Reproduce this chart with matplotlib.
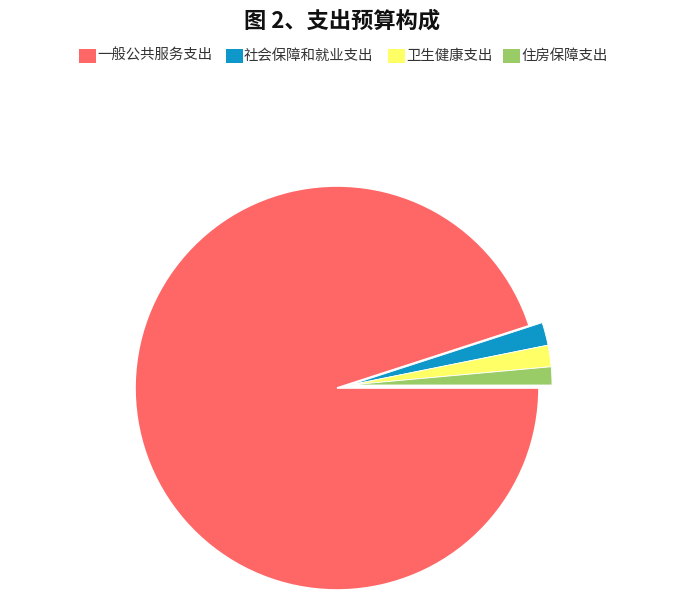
import matplotlib
matplotlib.use('Agg')
import matplotlib.pyplot as plt
import matplotlib.patches as mpatches

plt.rcParams['font.family'] = ['Noto Sans CJK SC', 'DejaVu Sans']

# ── 数据 ──────────────────────────────────────────────────────────────────
categories = ['一般公共服务支出', '社会保障和就业支出', '卫生健康支出', '住房保障支出']
shares = [95.01, 1.83, 1.72, 1.44]
colors = ['#FF6666', '#0E97C9', '#FFFF66', '#99CC66']

W, H = 700, 613
R = 202
CX, CY = 337, H - 388
# 小扇区整体向外偏移（像素）
SHIFT = (13, 3)

fig = plt.figure(figsize=(W / 100, H / 100), dpi=100)
fig.patch.set_facecolor('white')

# 轴使用像素坐标，方便定位
ax = fig.add_axes([0, 0, 1, 1])
wedges, _ = ax.pie(shares, colors=colors, startangle=0, counterclock=False,
                   radius=R, center=(CX, CY), frame=True,
                   wedgeprops=dict(edgecolor='white', linewidth=1.2))
for w in wedges[1:]:
    w.set_center((CX + SHIFT[0], CY + SHIFT[1]))
    w.set_linewidth(0.6)
ax.set_xlim(0, W)
ax.set_ylim(0, H)
ax.set_aspect('equal')
ax.axis('off')

# 标题
fig.text(342 / W, 1 - 21 / H, '图 2、支出预算构成', ha='center', va='center',
         fontsize=16, fontweight='bold', color='#111111')

# 图例（手工排布）
box_x = [79, 226, 388, 503]
ly = H - 56
for bx, lab, c in zip(box_x, categories, colors):
    ax.add_patch(mpatches.Rectangle((bx, ly - 7), 17, 14, facecolor=c,
                                    edgecolor='none', clip_on=False))
    ax.text(bx + 18, ly, lab, ha='left', va='center', fontsize=10.4, color='#333333')

fig.savefig('out.png', dpi=100, facecolor='white')
